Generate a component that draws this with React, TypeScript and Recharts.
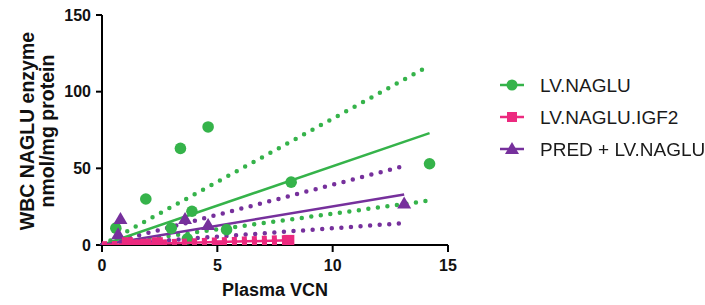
import React from 'react';
import { ScatterChart, Scatter, XAxis, YAxis, Label } from 'recharts';

interface Pt {
  x: number;
  y: number;
}

const GREEN = '#35b34a';
const PINK = '#ec2a7f';
const PURPLE = '#76309c';
const FONT = '"Liberation Sans", Arial, sans-serif';

// measured points
const lvNaglu: Pt[] = [
  { x: 0.6, y: 11 },
  { x: 1.9, y: 30 },
  { x: 3.0, y: 11 },
  { x: 3.4, y: 63 },
  { x: 3.7, y: 4 },
  { x: 3.9, y: 22 },
  { x: 4.6, y: 77 },
  { x: 5.4, y: 10 },
  { x: 8.2, y: 41 },
  { x: 14.2, y: 53 },
];

const lvNagluIgf2: Pt[] = [
  { x: 1.1, y: 1.5 },
  { x: 1.3, y: 0 },
  { x: 1.5, y: -1 },
  { x: 1.7, y: 0 },
  { x: 1.9, y: 0.5 },
  { x: 2.4, y: 1.5 },
  { x: 5.0, y: -0.5 },
  { x: 8.1, y: 3 },
];

const predLvNaglu: Pt[] = [
  { x: 0.7, y: 7 },
  { x: 0.8, y: 17 },
  { x: 3.6, y: 17 },
  { x: 4.6, y: 13 },
  { x: 13.1, y: 27 },
];

// regression lines (through origin) and 95% bands, endpoints
const greenFit: Pt[] = [{ x: 0, y: 0 }, { x: 14.2, y: 73 }];
const greenUpper: Pt[] = [{ x: 0, y: 0 }, { x: 14.2, y: 117 }];
const greenLower: Pt[] = [{ x: 0, y: 0 }, { x: 14.2, y: 29 }];

const pinkFit: Pt[] = [{ x: 0, y: 0 }, { x: 8.1, y: 3.1 }];
const pinkUpper: Pt[] = [{ x: 0, y: 0 }, { x: 8.1, y: 4.3 }];
const pinkLower: Pt[] = [{ x: 0, y: 0 }, { x: 8.1, y: 1.9 }];

const purpleFit: Pt[] = [{ x: 0, y: 0 }, { x: 13.1, y: 33 }];
const purpleUpper: Pt[] = [{ x: 0, y: 0 }, { x: 13.1, y: 51.5 }];
const purpleLower: Pt[] = [{ x: 0, y: 0 }, { x: 13.1, y: 14.3 }];

const xTicks = [0, 5, 10, 15];
const yTicks = [0, 50, 100, 150];

const legendItems = [
  { name: 'LV.NAGLU', color: GREEN, shape: 'circle' },
  { name: 'LV.NAGLU.IGF2', color: PINK, shape: 'square' },
  { name: 'PRED + LV.NAGLU', color: PURPLE, shape: 'triangle' },
];

const noShape = () => <g />;

const circleShape = (p: any) => <circle cx={p.cx} cy={p.cy} r={5.8} fill={GREEN} />;
const squareShape = (p: any) => (
  <rect x={p.cx - 5.5} y={p.cy - 5.5} width={11} height={11} fill={PINK} />
);
const triangleShape = (p: any) => (
  <polygon
    points={`${p.cx},${p.cy - 7} ${p.cx - 7},${p.cy + 5} ${p.cx + 7},${p.cy + 5}`}
    fill={PURPLE}
  />
);

function Marker({ shape, color }: { shape: string; color: string }) {
  return (
    <svg width={26} height={14} style={{ display: 'block', flex: 'none' }}>
      <line x1={1} y1={7} x2={25} y2={7} stroke={color} strokeWidth={2.5} />
      {shape === 'circle' && <circle cx={13} cy={7} r={5.5} fill={color} />}
      {shape === 'square' && <rect x={8} y={2} width={10} height={10} fill={color} />}
      {shape === 'triangle' && <polygon points="13,0 6,12 20,12" fill={color} />}
    </svg>
  );
}

const dotted = (color: string) => ({
  stroke: color,
  strokeWidth: 4.5,
  strokeDasharray: '0 9.6',
  strokeLinecap: 'round',
});

const squareDotted = (color: string) => ({
  stroke: color,
  strokeWidth: 7,
  strokeDasharray: '5 5',
});

export default function App() {
  const tickStyle = { fill: '#111', fontSize: 16, fontWeight: 'bold', fontFamily: FONT };

  return (
    <div style={{ position: 'fixed', left: 0, top: 0, width: 705, height: 305, background: '#fff' }}>
      <ScatterChart width={705} height={305} margin={{ top: 15, right: 257, bottom: 0, left: 0 }}>
        <XAxis
          type="number"
          dataKey="x"
          domain={[0, 15]}
          ticks={xTicks}
          height={60}
          tickSize={7}
          tickMargin={8}
          axisLine={{ stroke: '#000', strokeWidth: 2 }}
          tickLine={{ stroke: '#000', strokeWidth: 2 }}
          tick={tickStyle}
        >
          <Label
            content={() => (
              <text x={275} y={296} textAnchor="middle" fontSize={18} fontWeight="bold" fontFamily={FONT} fill="#111">
                Plasma VCN
              </text>
            )}
          />
        </XAxis>
        <YAxis
          type="number"
          dataKey="y"
          domain={[0, 150]}
          ticks={yTicks}
          width={102}
          tickSize={6}
          tickMargin={5}
          allowDataOverflow
          axisLine={{ stroke: '#000', strokeWidth: 2 }}
          tickLine={{ stroke: '#000', strokeWidth: 2 }}
          tick={tickStyle}
        >
          <Label
            content={() => (
              <g fontSize={19.5} fontWeight="bold" fontFamily={FONT} fill="#111" textAnchor="middle">
                <text x={34} y={131} transform="rotate(-90, 34, 131)">WBC NAGLU enzyme</text>
                <text x={54} y={131} transform="rotate(-90, 54, 131)">nmol/mg protein</text>
              </g>
            )}
          />
        </YAxis>

        <Scatter data={greenUpper} line={dotted(GREEN)} shape={noShape} isAnimationActive={false} legendType="none" />
        <Scatter data={greenLower} line={dotted(GREEN)} shape={noShape} isAnimationActive={false} legendType="none" />
        <Scatter data={purpleUpper} line={dotted(PURPLE)} shape={noShape} isAnimationActive={false} legendType="none" />
        <Scatter data={purpleLower} line={dotted(PURPLE)} shape={noShape} isAnimationActive={false} legendType="none" />
        <Scatter data={greenFit} line={{ stroke: GREEN, strokeWidth: 2.5 }} shape={noShape} isAnimationActive={false} legendType="none" />
        <Scatter data={purpleFit} line={{ stroke: PURPLE, strokeWidth: 2.5 }} shape={noShape} isAnimationActive={false} legendType="none" />

        <Scatter name="LV.NAGLU" data={lvNaglu} shape={circleShape} isAnimationActive={false} />
        <Scatter name="PRED + LV.NAGLU" data={predLvNaglu} shape={triangleShape} isAnimationActive={false} />

        <Scatter data={pinkUpper} line={squareDotted(PINK)} shape={noShape} isAnimationActive={false} legendType="none" />
        <Scatter data={pinkLower} line={squareDotted(PINK)} shape={noShape} isAnimationActive={false} legendType="none" />
        <Scatter data={pinkFit} line={{ stroke: PINK, strokeWidth: 2.5 }} shape={noShape} isAnimationActive={false} legendType="none" />
        <Scatter name="LV.NAGLU.IGF2" data={lvNagluIgf2} shape={squareShape} isAnimationActive={false} />
      </ScatterChart>

      <div
        style={{
          position: 'absolute',
          left: 499,
          top: 69,
          width: 206,
          whiteSpace: 'nowrap',
          fontFamily: FONT,
          fontSize: 19,
          color: '#1a1a1a',
        }}
      >
        {legendItems.map((it) => (
          <div key={it.name} style={{ display: 'flex', alignItems: 'center', height: 32 }}>
            <Marker shape={it.shape} color={it.color} />
            <span style={{ marginLeft: 15, lineHeight: '19px' }}>{it.name}</span>
          </div>
        ))}
      </div>
    </div>
  );
}
